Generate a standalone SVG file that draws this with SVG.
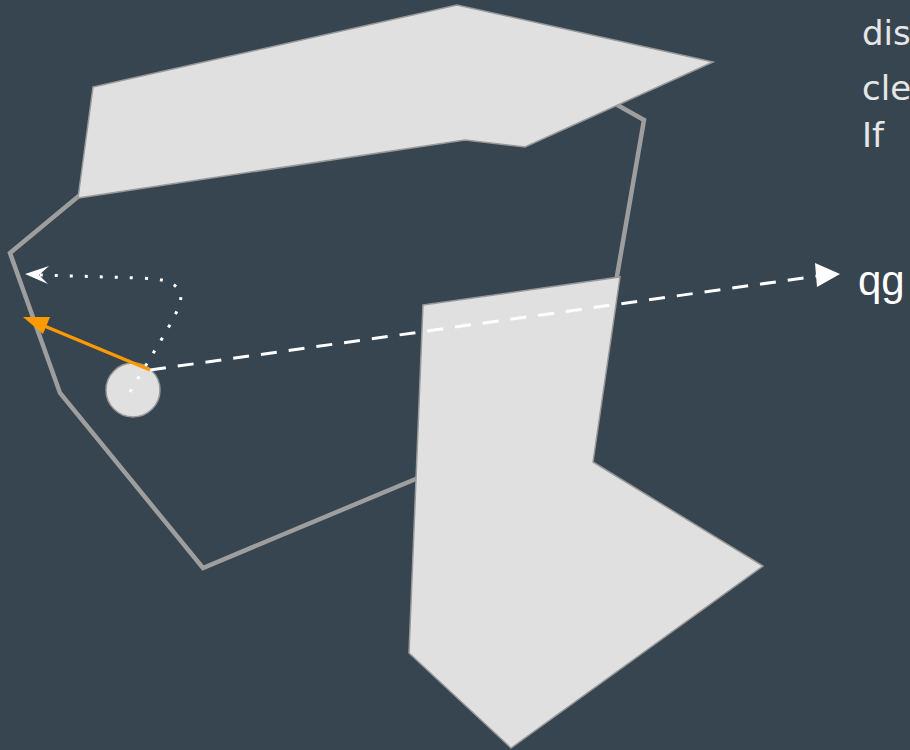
<svg xmlns="http://www.w3.org/2000/svg" width="910" height="750" viewBox="0 0 910 750">
<style>
.bg{fill:#36454f}
.wall{fill:none;stroke:#9e9e9e;stroke-width:4.5;stroke-linejoin:miter}
.obst{fill:#e0e0e0;stroke:#999;stroke-width:1.5}
.lbl{font-family:"DejaVu Sans","Liberation Sans",sans-serif;fill:#e6e6e6}
.qg{font-family:"Liberation Sans",Arial,sans-serif;fill:#ffffff}
</style>
<rect class="bg" x="0" y="0" width="910" height="750"/>
<g id="outline">
<polyline class="wall" points="612,102 644,120 612,305 520,420 418,478 203,568 60,393 10,253 80,195"/>
</g>
<g id="obstacle-top">
<polygon class="obst" points="93,87 457,5 713,62 525,147 465,140 78,198"/>
</g>
<g id="obstacle-bottom">
<polygon class="obst" points="423,305 620,277 593,462 763,566 511,748 409,653"/>
</g>
<g id="agent">
<circle cx="133" cy="390" r="27" fill="#e0e0e0" stroke="#999" stroke-width="1.5"/>
</g>
<g id="connectors">
<path d="M130,392 C160,340 186,305 180,292 C174,280 160,279 140,278 L40,275" fill="none" stroke="#fff" stroke-width="3" stroke-dasharray="3 12"/>
<path d="M25,274 L49,266 L39,275 L48,284 z" fill="#fff"/>
<line x1="150" y1="370" x2="818" y2="276" stroke="#fff" stroke-width="3" stroke-dasharray="16 12"/>
<path d="M840,274 L815,263 L817,287 z" fill="#fff"/>
<line x1="150" y1="370" x2="42" y2="325" stroke="#ff9900" stroke-width="3.5"/>
<path d="M23,317 L50,317 L43,334 z" fill="#ff9900"/>
</g>
<g id="labels">
<text class="lbl" x="862" y="45" font-size="34">dis</text>
<text class="lbl" x="862" y="100" font-size="34">cle</text>
<text class="lbl" x="862" y="147" font-size="34">If</text>
<text class="qg" x="858" y="295" font-size="42">qg</text>
</g>
</svg>
